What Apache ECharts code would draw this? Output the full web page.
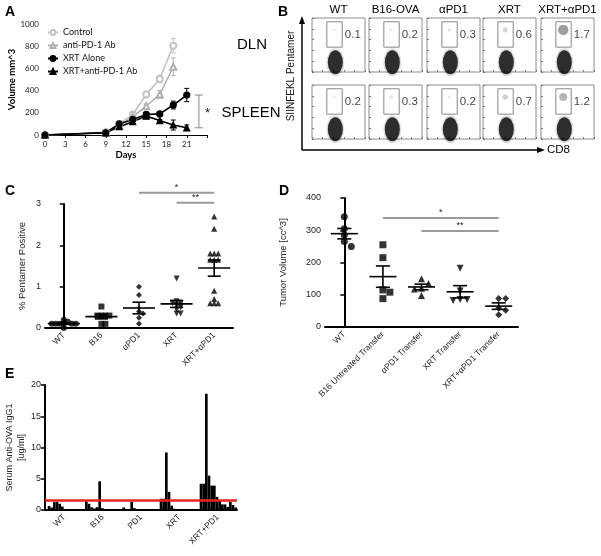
<!DOCTYPE html>
<html><head><meta charset="utf-8">
<script src="https://cdn.jsdelivr.net/npm/echarts@6/dist/echarts.min.js"></script>
<style>html,body{margin:0;padding:0;background:#fff}#c{width:601px;height:556px}</style>
</head><body><div id="c"></div><script>
// ---------------- DATA ----------------
// Panel A: tumour growth
const daysA = [0, 9, 11, 13, 15, 17, 19, 21];
const controlA = [0, 25, 100, 185, 365, 505, 805, null];
const controlErrA = [0, 5, 10, 20, 30, 35, 65, null];
const antiPD1A = [0, 20, 85, 165, 260, 365, 615, null];
const antiPD1ErrA = [0, 5, 10, 15, 20, 35, 80, null];
const xrtA = [0, 20, 100, 140, 185, 190, 270, 360];
const xrtErrA = [0, 5, 15, 15, 20, 15, 35, 60];
const xrtPD1A = [0, 20, 75, 120, 170, 130, 90, 65];
const xrtPD1ErrA = [0, 5, 15, 15, 15, 10, 45, 25];
const namesA = ['Control', 'anti-PD-1 Ab', 'XRT Alone', 'XRT+anti-PD-1 Ab'];

// Panel B: flow cytometry gates
const flowCols = ['WT', 'B16-OVA', 'αPD1', 'XRT', 'XRT+αPD1'];
const flowRows = ['DLN', 'SPLEEN'];
const dlnPct = [0.1, 0.2, 0.3, 0.6, 1.7];
const spleenPct = [0.2, 0.3, 0.2, 0.7, 1.2];

// Panel C: % pentamer positive
const catsC = ['WT', 'B16', 'αPD1', 'XRT', 'XRT+αPD1'];
const wtC = [0.1, 0.1, 0.1, 0.1, 0.1, 0.1, 0.15, 0.2, 0.0];
const b16C = [0.52, 0.3, 0.3, 0.3, 0.3, 0.1, 0.1];
const pd1C = [1.0, 0.8, 0.4, 0.35, 0.25, 0.1];
const xrtC = [1.2, 0.65, 0.6, 0.6, 0.55, 0.5, 0.45, 0.35, 0.35];
const xrtPD1C = [2.7, 2.4, 1.8, 1.8, 1.8, 1.65, 1.65, 1.65, 0.9, 0.7, 0.6, 0.6, 0.6];
const sigC = [[2, 4, 3.27, '*'], [3, 4, 3.03, '**']];

// Panel D: tumour volume after transfer
const catsD = ['WT', 'B16 Untreated Transfer', 'αPD1 Transfer', 'XRT Transfer', 'XRT+αPD1 Transfer'];
const wtD = [342, 305, 285, 265, 250];
const b16D = [255, 215, 115, 108, 88];
const pd1D = [150, 135, 120, 118, 98];
const xrtD = [182, 112, 85, 85, 82];
const xrtPD1D = [88, 88, 58, 52, 38];
const sigD = [[1, 4, 338, '*'], [2, 4, 298, '**']];

// Panel E: serum anti-OVA IgG1 per mouse
const catsE = ['WT', 'B16', 'PD1', 'XRT', 'XRT+PD1'];
const wtE = [0.65, 0.4, 1.25, 1.3, 1.0, 0.55];
const b16E = [1.35, 1.0, 0.45, 0.25, 0.45, 4.6, 0.3];
const pd1E = [0.4, 0.15, 0.15, 1.3, 0.3];
const xrtE = [1.8, 1.8, 9.2, 2.9, 0.7, 0.2];
const xrtPD1E = [4.2, 4.2, 18.6, 5.5, 3.9, 3.9, 2.1, 1.6, 0.9, 0.9, 0.5, 1.3, 0.8, 0.4];
const cutoffE = 1.5;

// ---------------- LAYOUT ----------------
const F = 'Liberation Sans, Arial, sans-serif';
const grids = [], xAxes = [], yAxes = [], series = [], graphics = [];

function errRender(color, cap) {
  return function (params, api) {
    const x = api.value(0), lo = api.value(1), hi = api.value(2);
    const a = api.coord([x, lo]), b = api.coord([x, hi]);
    const st = { stroke: color, lineWidth: 1 };
    return { type: 'group', children: [
      { type: 'line', shape: { x1: a[0], y1: a[1], x2: b[0], y2: b[1] }, style: st },
      { type: 'line', shape: { x1: a[0] - cap, y1: a[1], x2: a[0] + cap, y2: a[1] }, style: st },
      { type: 'line', shape: { x1: b[0] - cap, y1: b[1], x2: b[0] + cap, y2: b[1] }, style: st }
    ] };
  };
}
function meanSemRender(wMean, wCap) {
  return function (params, api) {
    const x = api.value(0), m = api.value(1), s = api.value(2);
    const pm = api.coord([x, m]), pl = api.coord([x, m - s]), ph = api.coord([x, m + s]);
    const st = { stroke: '#000', lineWidth: 1.6 };
    return { type: 'group', children: [
      { type: 'line', shape: { x1: pm[0] - wMean / 2, y1: pm[1], x2: pm[0] + wMean / 2, y2: pm[1] }, style: st },
      { type: 'line', shape: { x1: pl[0], y1: pl[1], x2: ph[0], y2: ph[1] }, style: st },
      { type: 'line', shape: { x1: pl[0] - wCap / 2, y1: pl[1], x2: pl[0] + wCap / 2, y2: pl[1] }, style: st },
      { type: 'line', shape: { x1: ph[0] - wCap / 2, y1: ph[1], x2: ph[0] + wCap / 2, y2: ph[1] }, style: st }
    ] };
  };
}
function sigRender(list) {
  return function (params, api) {
    const a = api.coord([api.value(0), api.value(2)]), b = api.coord([api.value(1), api.value(2)]);
    return { type: 'group', children: [
      { type: 'line', shape: { x1: a[0], y1: a[1], x2: b[0], y2: b[1] }, style: { stroke: '#9a9a9a', lineWidth: 2 } },
      { type: 'text', x: (a[0] + b[0]) / 2, y: a[1] - 1, style: { text: list[params.dataIndex][3], align: 'center', verticalAlign: 'bottom', fontSize: 9, fontFamily: F, fill: '#222' } }
    ] };
  };
}
function swarm(vals, pxPerUnit, pxPerCat, dist) {
  const placed = [], off = new Array(vals.length).fill(0);
  const idx = vals.map((v, i) => i).sort((a, b) => vals[b] - vals[a]);
  for (const i of idx) {
    const y = vals[i] * pxPerUnit;
    for (let k = 0; k < 60; k++) {
      const c = k === 0 ? 0 : (k % 2 ? 1 : -1) * Math.ceil(k / 2) * dist * 0.5;
      if (placed.every(p => (p[0] - c) ** 2 + (p[1] - y) ** 2 >= dist * dist * 0.8)) { off[i] = c; placed.push([c, y]); break; }
    }
  }
  return off.map(o => o / pxPerCat);
}
function mean(a) { return a.reduce((s, v) => s + v, 0) / a.length; }
function sem(a) { const m = mean(a); return Math.sqrt(a.reduce((s, v) => s + (v - m) ** 2, 0) / (a.length - 1)) / Math.sqrt(a.length); }

// ---- Panel A ----
const gA = grids.length; grids.push({ left: 45, top: 24, width: 162, height: 111 });
const xA = xAxes.length;
xAxes.push({ type: 'value', gridIndex: gA, min: 0, max: 24, interval: 3,
  axisLine: { lineStyle: { color: '#000', width: 1 } }, axisTick: { length: 3, lineStyle: { color: '#000' } },
  axisLabel: { fontSize: 8, color: '#222', fontFamily: 'Lato', margin: 5, formatter: v => (v > 21 ? '' : String(v)) },
  splitLine: { show: false }, name: 'Days', nameLocation: 'middle', nameGap: 15,
  nameTextStyle: { fontWeight: 'bold', fontSize: 9.5, fontFamily: 'Lato', color: '#000' } });
const yA = yAxes.length;
yAxes.push({ type: 'value', gridIndex: gA, min: 0, max: 1000, interval: 200,
  axisLine: { show: false }, axisTick: { show: false }, splitLine: { show: false },
  axisLabel: { fontSize: 8, color: '#222', fontFamily: 'Lato', margin: 6, formatter: v => String(v) },
  name: 'Volume mm^3', nameLocation: 'middle', nameGap: 21,
  nameTextStyle: { fontWeight: 'bold', fontSize: 9.5, fontFamily: 'Lato', color: '#000' } });
const setA = [
  [controlA, controlErrA, '#c4c4c4', 'emptyCircle'],
  [antiPD1A, antiPD1ErrA, '#b0b0b0', 'emptyTriangle'],
  [xrtA, xrtErrA, '#000', 'circle'],
  [xrtPD1A, xrtPD1ErrA, '#000', 'triangle']
];
setA.forEach((s, k) => {
  const pts = [], errs = [];
  daysA.forEach((d, i) => { if (s[0][i] != null) { pts.push([d, s[0][i]]); if (s[1][i] > 0) errs.push([d, s[0][i] - s[1][i], s[0][i] + s[1][i]]); } });
  series.push({ type: 'custom', xAxisIndex: xA, yAxisIndex: yA, renderItem: errRender(s[2], 2.5), data: errs, encode: { x: 0, y: [1, 2] }, z: 1, silent: true });
  series.push({ type: 'line', name: namesA[k], xAxisIndex: xA, yAxisIndex: yA, data: pts, symbol: s[3], symbolSize: 6,
    lineStyle: { color: s[2], width: 1.6 }, itemStyle: { color: s[2], borderColor: s[2], borderWidth: 1.2 }, z: 3, animation: false });
});
// significance bracket between final XRT values
const lastXrt = xrtA[xrtA.length - 1], lastXrtPD1 = xrtPD1A[xrtPD1A.length - 1];
series.push({ type: 'custom', xAxisIndex: xA, yAxisIndex: yA, clip: false, silent: true,
  data: [[22.8, lastXrtPD1, lastXrt]], encode: { x: 0, y: [1, 2] },
  renderItem: function (params, api) {
    const g = errRender('#888', 4)(params, api);
    const a = api.coord([api.value(0), (api.value(1) + api.value(2)) / 2]);
    g.children.push({ type: 'text', x: a[0] + 6, y: a[1] + 2, style: { text: '*', fontSize: 13, fill: '#222', fontFamily: F, verticalAlign: 'middle' } });
    return g;
  } });

// ---- Panel B ----
const colX = [312, 369, 427, 483, 541], rowY = [18, 85], cellW = 53, cellH = 54;
const blobPos = [2.2, 0.9], gateLo = [1.4, 2.3], gateHi = [2.85, 4.65], clusterPos = [2.1, 3.9], labelPos = [3.85, 3.45];
[dlnPct, spleenPct].forEach((pcts, r) => {
  pcts.forEach((pct, c) => {
    const g = grids.length;
    grids.push({ left: colX[c], top: rowY[r], width: cellW, height: cellH, show: true, borderColor: '#8a8a8a', borderWidth: 1, backgroundColor: 'transparent' });
    const xi = xAxes.length, yi = yAxes.length;
    xAxes.push({ type: 'value', gridIndex: g, min: 0, max: 5, interval: 1, axisLine: { show: false }, axisTick: { inside: true, length: 2, lineStyle: { color: '#777' } }, axisLabel: { show: false }, splitLine: { show: false } });
    yAxes.push({ type: 'value', gridIndex: g, min: 0, max: 5, interval: 1, axisLine: { show: false }, axisTick: { inside: true, length: 2, lineStyle: { color: '#777' } }, axisLabel: { show: false }, splitLine: { show: false } });
    series.push({ type: 'scatter', xAxisIndex: xi, yAxisIndex: yi, silent: true, symbol: 'circle', symbolSize: [18, 28], data: [blobPos], itemStyle: { color: 'rgba(0,0,0,0.16)' }, z: 2 });
    series.push({ type: 'scatter', xAxisIndex: xi, yAxisIndex: yi, silent: true, symbol: 'circle', symbolSize: [15, 24], data: [blobPos], itemStyle: { color: '#000' }, z: 3,
      markArea: { silent: true, itemStyle: { color: 'rgba(0,0,0,0)', borderColor: '#888', borderWidth: 1 }, data: [[{ coord: gateLo }, { coord: gateHi }]] } });
    series.push({ type: 'scatter', xAxisIndex: xi, yAxisIndex: yi, silent: true, symbol: 'circle', symbolSize: 2 + pct * 5, data: [clusterPos], itemStyle: { color: 'rgba(0,0,0,' + Math.min(0.5, 0.06 + pct * 0.25).toFixed(2) + ')' }, z: 2 });
    series.push({ type: 'scatter', xAxisIndex: xi, yAxisIndex: yi, silent: true, symbolSize: 1, data: [labelPos], itemStyle: { color: 'rgba(0,0,0,0)' },
      label: { show: true, position: 'inside', formatter: String(pct), fontSize: 11.5, color: '#111', fontFamily: F }, z: 4 });
  });
});

// ---- Panels C and D (dot plots) ----
function dotPanel(box, cats, groups, symbols, rotates, yMax, yInt, yName, nameGap, sig, symSize, dist, wMean, wCap) {
  const g = grids.length; grids.push(box);
  xAxes.push({ type: 'category', gridIndex: g, data: cats,
    axisLine: { lineStyle: { color: '#000', width: 2 } }, axisTick: { alignWithLabel: true, length: 4, lineStyle: { color: '#000', width: 1.5 } },
    axisLabel: { rotate: 45, fontSize: 8.5, color: '#222', fontFamily: F, margin: 6 } });
  const xv = xAxes.length;
  xAxes.push({ type: 'value', gridIndex: g, min: -0.5, max: 4.5, show: false });
  const yi = yAxes.length;
  yAxes.push({ type: 'value', gridIndex: g, min: 0, max: yMax, interval: yInt,
    axisLine: { show: true, lineStyle: { color: '#000', width: 2 } }, axisTick: { show: true, length: 4, lineStyle: { color: '#000', width: 1.5 } },
    axisLabel: { fontSize: 9, color: '#222', fontFamily: F, margin: 4 }, splitLine: { show: false },
    name: yName, nameLocation: 'middle', nameGap: nameGap, nameTextStyle: { fontSize: 9.5, color: '#222', fontFamily: F } });
  const pxU = box.height / yMax, pxC = box.width / cats.length;
  const stats = [];
  groups.forEach((vals, i) => {
    const off = swarm(vals, pxU, pxC, dist);
    series.push({ type: 'scatter', xAxisIndex: xv, yAxisIndex: yi, symbol: symbols[i], symbolRotate: rotates[i], symbolSize: symSize,
      itemStyle: { color: '#000' }, data: vals.map((v, j) => [i + off[j], v]), z: 3, silent: true });
    stats.push([i, mean(vals), sem(vals)]);
  });
  series.push({ type: 'custom', xAxisIndex: xv, yAxisIndex: yi, renderItem: meanSemRender(wMean, wCap), data: stats, encode: { x: 0, y: 1 }, z: 4, silent: true });
  series.push({ type: 'custom', xAxisIndex: xv, yAxisIndex: yi, clip: false, renderItem: sigRender(sig), data: sig.map(s => [s[0], s[1], s[2]]), encode: { x: [0, 1], y: 2 }, z: 4, silent: true });
}
dotPanel({ left: 45, top: 204, width: 188, height: 124 }, catsC, [wtC, b16C, pd1C, xrtC, xrtPD1C],
  ['circle', 'rect', 'diamond', 'triangle', 'triangle'], [0, 0, 0, 180, 0], 3, 1, '% Pentamer Positive', 18, sigC, 6, 4, 32, 13);
dotPanel({ left: 325, top: 198, width: 193, height: 129 }, catsD, [wtD, b16D, pd1D, xrtD, xrtPD1D],
  ['circle', 'rect', 'triangle', 'triangle', 'diamond'], [0, 0, 0, 180, 0], 400, 100, 'Tumor Volume [cc^3]', 37, sigD, 7, 7, 27, 14);

// ---- Panel E (bars per mouse) ----
const gE = grids.length; grids.push({ left: 45, top: 385, width: 192, height: 125 });
const eSlots = 72, eStart = [1, 15, 29, 43, 58];
const eVals = new Array(eSlots).fill('-');
[wtE, b16E, pd1E, xrtE, xrtPD1E].forEach((arr, gi) => arr.forEach((v, j) => { eVals[eStart[gi] + j] = v; }));
xAxes.push({ type: 'category', gridIndex: gE, data: catsE,
  axisLine: { lineStyle: { color: '#000', width: 2 } }, axisTick: { alignWithLabel: true, length: 4, lineStyle: { color: '#000', width: 1.5 } },
  axisLabel: { rotate: 45, fontSize: 8.5, color: '#222', fontFamily: F, margin: 6 } });
const xEs = xAxes.length;
xAxes.push({ type: 'category', gridIndex: gE, data: eVals.map((v, i) => 's' + i), show: false });
const yE = yAxes.length;
yAxes.push({ type: 'value', gridIndex: gE, min: 0, max: 20, interval: 5,
  axisLine: { show: true, lineStyle: { color: '#000', width: 2 } }, axisTick: { show: true, length: 4, lineStyle: { color: '#000', width: 1.5 } },
  axisLabel: { fontSize: 9, color: '#222', fontFamily: F, margin: 4 }, splitLine: { show: false },
  name: 'Serum Anti-OVA IgG1\n[ug/ml]', nameLocation: 'middle', nameGap: 16, nameTextStyle: { fontSize: 9, color: '#222', fontFamily: F, lineHeight: 12 } });
series.push({ type: 'bar', xAxisIndex: xEs, yAxisIndex: yE, data: eVals, barCategoryGap: '0%', itemStyle: { color: '#000' }, silent: true,
  markLine: { silent: true, symbol: 'none', label: { show: false }, lineStyle: { color: '#e8231b', width: 2.5, type: 'solid' }, data: [{ yAxis: cutoffE }] } });

// ---- texts / decorations ----
function txt(t, x, y, o) { graphics.push({ type: 'text', x: x, y: y, style: Object.assign({ text: t, fontFamily: F, fill: '#000' }, o || {}) }); }
txt('A', 5, 5, { fontSize: 14, fontWeight: 'bold' });
txt('B', 278, 5, { fontSize: 14, fontWeight: 'bold' });
txt('C', 5, 184, { fontSize: 14, fontWeight: 'bold' });
txt('D', 279, 184, { fontSize: 14, fontWeight: 'bold' });
txt('E', 5, 367, { fontSize: 14, fontWeight: 'bold' });
txt(flowRows[0], 252, 45, { fontSize: 15, align: 'center', verticalAlign: 'middle' });
txt(flowRows[1], 251, 113, { fontSize: 15, align: 'center', verticalAlign: 'middle' });
flowCols.forEach((c, i) => txt(c, colX[i] + cellW / 2, 10, { fontSize: 11.5, align: 'center', verticalAlign: 'middle' }));
graphics.push({ type: 'text', x: 291, y: 76, rotation: Math.PI / 2, style: { text: 'SIINFEKL Pentamer', fontSize: 10, fontFamily: F, fill: '#111', align: 'center', verticalAlign: 'middle' } });
txt('CD8', 547, 150, { fontSize: 11.5, verticalAlign: 'middle' });
graphics.push({ type: 'line', shape: { x1: 302, y1: 150, x2: 302, y2: 22 }, style: { stroke: '#000', lineWidth: 1.5 } });
graphics.push({ type: 'polygon', shape: { points: [[302, 16], [299, 24], [305, 24]] }, style: { fill: '#000' } });
graphics.push({ type: 'line', shape: { x1: 302, y1: 150, x2: 538, y2: 150 }, style: { stroke: '#000', lineWidth: 1.5 } });
graphics.push({ type: 'polygon', shape: { points: [[545, 150], [537, 147], [537, 153]] }, style: { fill: '#000' } });

const chart = echarts.init(document.getElementById('c'));
chart.setOption({
  animation: false,
  backgroundColor: '#fff',
  grid: grids, xAxis: xAxes, yAxis: yAxes, series: series, graphic: graphics,
  legend: { data: namesA, left: 47, top: 28, orient: 'vertical', itemGap: 4, itemWidth: 10, itemHeight: 6,
    textStyle: { fontSize: 9, fontFamily: 'Lato', color: '#111' }, padding: 0 }
});
</script></body></html>
